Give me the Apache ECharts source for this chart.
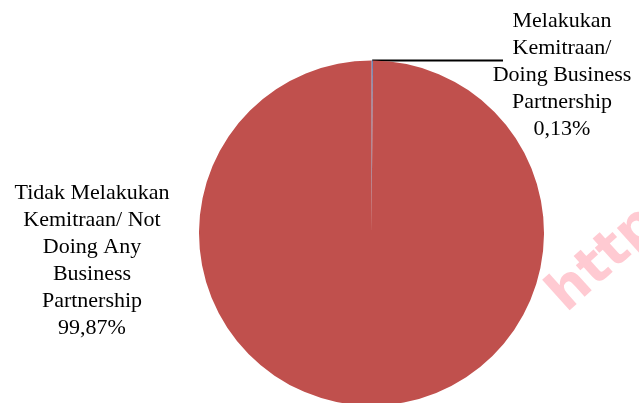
<!DOCTYPE html>
<html>
<head>
<meta charset="utf-8">
<script src="https://cdn.jsdelivr.net/npm/echarts@6/dist/echarts.min.js"></script>
<style>
  html, body { margin: 0; padding: 0; background: #ffffff; }
  #chart { width: 639px; height: 403px; }
</style>
</head>
<body>
<div id="chart"></div>
<script>
// Share of firms by business partnership status (percent)
const categories = [
  'Melakukan\nKemitraan/\nDoing Business\nPartnership',
  'Tidak Melakukan\nKemitraan/ Not\nDoing Any\nBusiness\nPartnership'
];
const shares = [0.13, 99.87];
const sliceColors = ['#4F81BD', '#C0504D'];

const chart = echarts.init(document.getElementById('chart'), null, { renderer: 'canvas' });

const fmtPct = v => v.toFixed(2).replace('.', ',') + '%';

const labelFont = {
  fontFamily: '"Liberation Serif", "DejaVu Serif", serif',
  fontSize: 22,
  lineHeight: 27,
  color: '#000000'
};

chart.setOption({
  backgroundColor: '#ffffff',
  animation: false,
  graphic: [{
    type: 'text',
    x: 575,
    y: 323,
    rotation: Math.PI * 42 / 180,
    silent: true,
    z: 0,
    style: {
      text: 'http',
      fill: 'rgba(255, 150, 165, 0.5)',
      font: 'bold 54px "DejaVu Sans", sans-serif',
      textAlign: 'left',
      textVerticalAlign: 'bottom'
    }
  }],
  series: [{
    type: 'pie',
    center: [371.5, 233],
    radius: [0, 172.5],
    startAngle: 90,
    clockwise: true,
    avoidLabelOverlap: false,
    z: 2,
    data: categories.map((name, i) => ({
      name: name,
      value: shares[i],
      itemStyle: { color: sliceColors[i] },
      labelLine: { show: i === 0 }
    })),
    label: Object.assign({
      show: true,
      position: 'outside',
      formatter: p => p.name + '\n' + fmtPct(p.value)
    }, labelFont),
    labelLine: {
      show: true,
      lineStyle: { color: '#000000', width: 2 }
    },
    labelLayout: function (params) {
      if (params.dataIndex === 0) {
        const start = params.labelLinePoints ? params.labelLinePoints[0] : [371.5, 60.5];
        return {
          x: 562, y: 75,
          align: 'center', verticalAlign: 'middle',
          labelLinePoints: [[start[0], 60.5], [503, 60.5], [503, 60.5]]
        };
      }
      return { x: 92, y: 261, align: 'center', verticalAlign: 'middle' };
    }
  }]
});
</script>
</body>
</html>
